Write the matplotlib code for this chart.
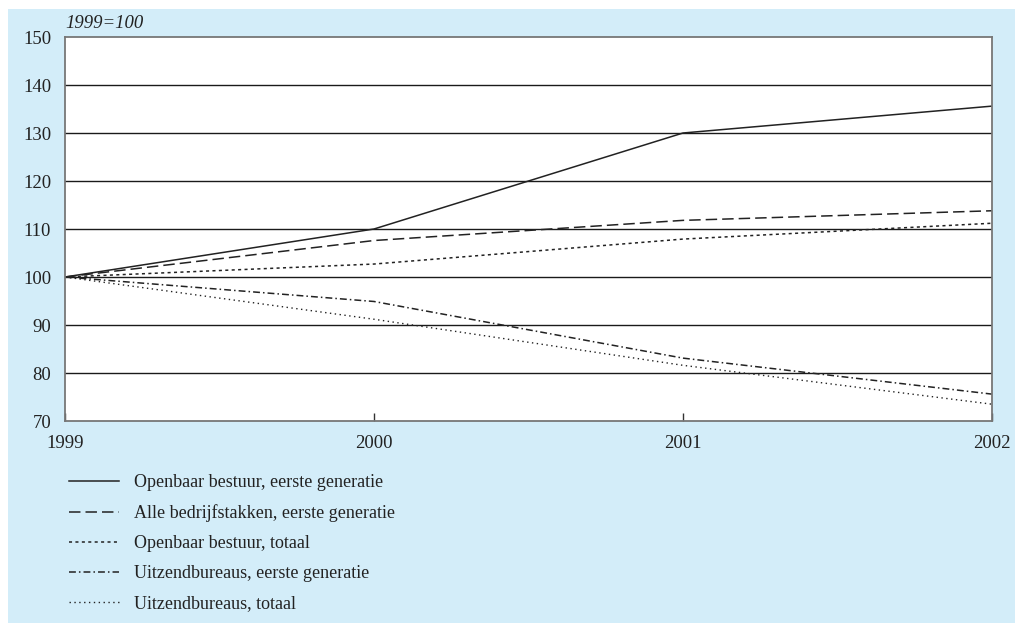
import matplotlib
matplotlib.use("Agg")
import matplotlib.pyplot as plt
from matplotlib.patches import Rectangle

plt.rcParams['font.family'] = ['Liberation Serif', 'DejaVu Serif']

# data, index 1999=100
years = [1999, 2000, 2001, 2002]
openbaar_eerste = [100, 110.0, 130.0, 135.6]
alle_eerste = [100, 107.6, 111.8, 113.8]
openbaar_totaal = [100, 102.7, 107.9, 111.2]
uitzend_eerste = [100, 94.9, 83.1, 75.6]
uitzend_totaal = [100, 91.2, 81.6, 73.5]

labels = ['Openbaar bestuur, eerste generatie',
          'Alle bedrijfstakken, eerste generatie',
          'Openbaar bestuur, totaal',
          'Uitzendbureaus, eerste generatie',
          'Uitzendbureaus, totaal']
yticks = [70, 80, 90, 100, 110, 120, 130, 140, 150]

W, H = 1015, 623
fig = plt.figure(figsize=(W / 100, H / 100), dpi=100)
fig.patch.set_facecolor('white')
bg = Rectangle((8 / W, 0), 1 - 8 / W, (H - 9) / H, transform=fig.transFigure,
               facecolor='#d3edf9', edgecolor='none', zorder=-5)
fig.add_artist(bg)

ax = fig.add_axes([65 / W, (H - 421) / H, 927 / W, 384 / H])
ax.set_zorder(2)
ax.set_facecolor('white')

ax.plot(years, openbaar_eerste, color='#222222', lw=1.1, ls='-', label=labels[0])
ax.plot(years, alle_eerste, color='#222222', lw=1.1, ls=(0, (7.5, 3.3)), label=labels[1])
ax.plot(years, openbaar_totaal, color='#222222', lw=1.1, ls=(0, (2, 2.2)), label=labels[2])
ax.plot(years, uitzend_eerste, color='#222222', lw=1.1, ls=(0, (4.5, 2, 1, 2)), label=labels[3])
ax.plot(years, uitzend_totaal, color='#222222', lw=1.0, ls=(0, (1, 2.5)), label=labels[4])

ax.set_xlim(1999, 2002)
ax.set_ylim(70, 150)
ax.set_yticks(yticks)
ax.set_xticks(years)
for y in yticks[1:-1]:
    ax.axhline(y, color='#1a1a1a', lw=1.0, zorder=1)

for s in ax.spines.values():
    s.set_color('#777777')
    s.set_linewidth(1.3)
ax.tick_params(axis='y', length=0, pad=10, labelsize=13.5, labelcolor='#222222')
ax.tick_params(axis='x', direction='in', length=6, width=1, color='#333333',
               pad=10, labelsize=13.5, labelcolor='#222222')

ax.text(0.0, 1.012, '1999=100', transform=ax.transAxes, fontsize=13.5,
        style='italic', color='#222222', ha='left', va='bottom')

handles, labs = ax.get_legend_handles_labels()
fig.legend(handles, labs, loc='upper left', bbox_to_anchor=(53 / W, (H - 458) / H),
           frameon=False, fontsize=13, handlelength=2.77, handletextpad=0.83,
           labelspacing=0.72, labelcolor='#222222')

fig.savefig('out.png', dpi=100)
